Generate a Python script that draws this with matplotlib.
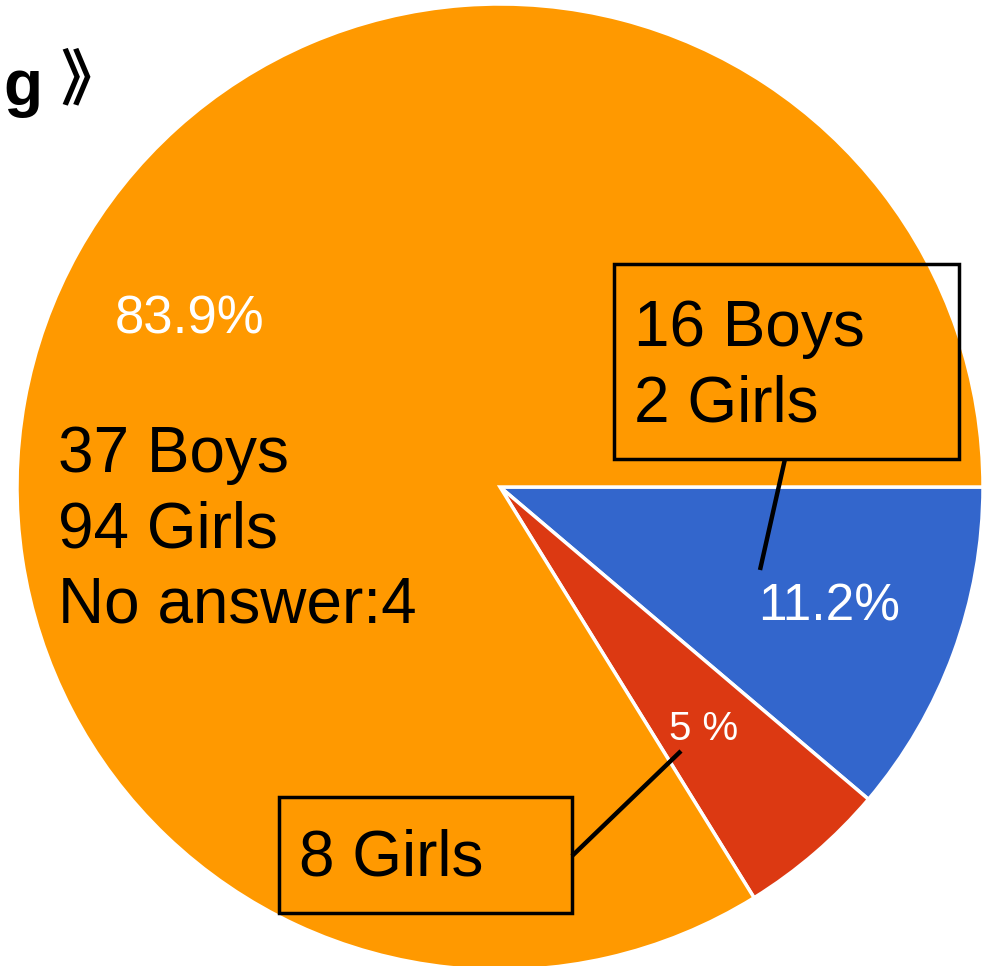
import matplotlib
matplotlib.use("Agg")
import matplotlib.pyplot as plt
from matplotlib.patches import Rectangle

# Data
categories = ["Boys answer", "Girls only", "Other"]
values = [11.2, 5.0, 83.9]
pct_labels = ["11.2%", "5 %", "83.9%"]
colors = ["#3366CC", "#DC3912", "#FF9900"]
box_texts = ["16 Boys\n2 Girls", "8 Girls"]
main_text = "37 Boys\n94 Girls\nNo answer:4"

W, H = 986, 966
fig = plt.figure(figsize=(W / 100, H / 100), dpi=100)
ax = fig.add_axes([0, 0, 1, 1])

def Y(y):
    return H - y

ax.pie(values, colors=colors, startangle=0, counterclock=False,
       center=(500, Y(487)), radius=483, frame=True,
       wedgeprops=dict(edgecolor="white", linewidth=2.5))
ax.set_xlim(0, W)
ax.set_ylim(0, H)
ax.set_aspect("auto")
ax.axis("off")

font = "Liberation Sans"

# percentage labels
ax.text(190, Y(320), pct_labels[2], color="white", fontsize=38, family=font,
        ha="center", va="center")
ax.text(829, Y(607), pct_labels[0], color="white", fontsize=37, family=font,
        ha="center", va="center")
ax.text(704, Y(729), pct_labels[1], color="white", fontsize=29, family=font,
        ha="center", va="center")

# main text
ax.text(58, Y(530), main_text, color="black", fontsize=46, family=font,
        ha="left", va="center", linespacing=1.32)

# boxes
ax.add_patch(Rectangle((614, Y(459)), 959 - 614, 459 - 264, fill=False,
                       edgecolor="black", linewidth=2.5, zorder=5))
ax.text(634, Y(367), box_texts[0], color="black", fontsize=46, family=font,
        ha="left", va="center", linespacing=1.32, zorder=6)
ax.plot([785, 760], [Y(459), Y(570)], color="black", linewidth=3.2,
        solid_capstyle="butt", zorder=5)

ax.add_patch(Rectangle((279, Y(913)), 572 - 279, 913 - 797, fill=False,
                       edgecolor="black", linewidth=2.5, zorder=5))
ax.text(299, Y(859), box_texts[1], color="black", fontsize=46, family=font,
        ha="left", va="center", zorder=6)
ax.plot([572, 681], [Y(856), Y(751)], color="black", linewidth=3.2,
        solid_capstyle="butt", zorder=5)

# cut-off title
ax.text(3, Y(88), "g", color="black", fontsize=46, family=font,
        fontweight="bold", ha="left", va="center")
ax.text(60, Y(82), "》", color="black", fontsize=44,
        family=["Noto Sans CJK SC", "DejaVu Sans"], fontweight="bold",
        ha="left", va="center")

fig.savefig("out.png", dpi=100)
